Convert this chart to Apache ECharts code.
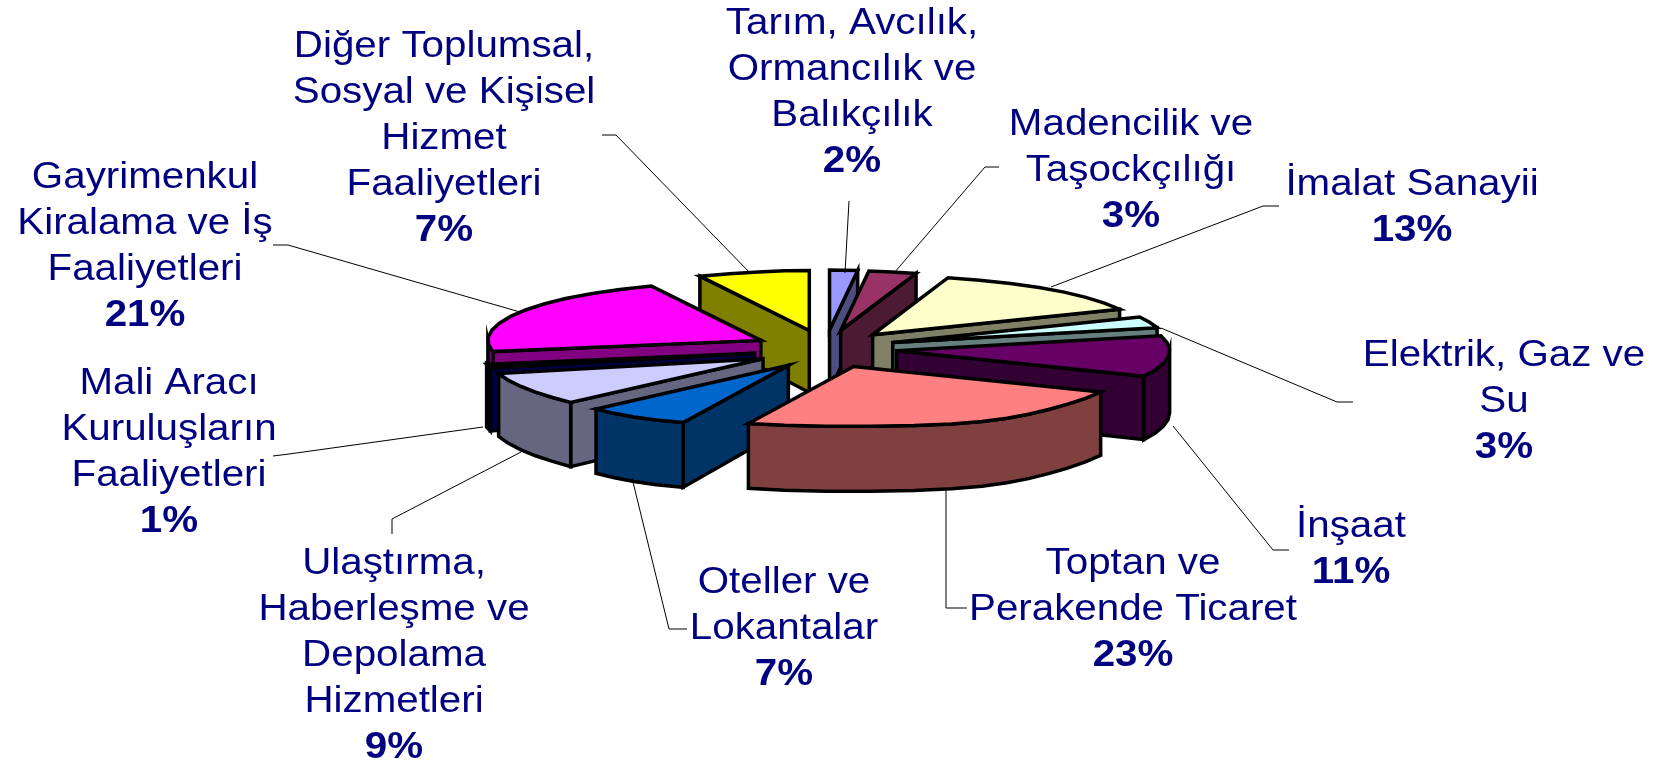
<!DOCTYPE html>
<html><head><meta charset="utf-8">
<style>html,body{margin:0;padding:0;background:#fff}#c{width:1657px;height:760px}</style>
<script src="https://cdn.jsdelivr.net/npm/echarts@6/dist/echarts.min.js"></script>
</head><body><div id="c"></div>
<script>
const categories = [
  "Tarım, Avcılık,\nOrmancılık ve\nBalıkçılık",
  "Madencilik ve\nTaşockçılığı",
  "İmalat Sanayii",
  "Elektrik, Gaz ve\nSu",
  "İnşaat",
  "Toptan ve\nPerakende Ticaret",
  "Oteller ve\nLokantalar",
  "Ulaştırma,\nHaberleşme ve\nDepolama\nHizmetleri",
  "Mali Aracı\nKuruluşların\nFaaliyetleri",
  "Gayrimenkul\nKiralama ve İş\nFaaliyetleri",
  "Diğer Toplumsal,\nSosyal ve Kişisel\nHizmet\nFaaliyetleri"
];
const shares = [2, 3, 13, 3, 11, 23, 7, 9, 1, 21, 7];
const topColors = ["#9999FF","#993366","#FFFFCC","#CCFFFF","#660066","#FF8080","#0066CC","#CCCCFF","#000080","#FF00FF","#FFFF00"];
const wallColors = ["#4D4D80","#4D1A33","#808066","#668080","#330033","#804040","#003366","#666680","#000040","#800080","#808000"];

/* paint order, back to front */
const paintOrder = [10, 9, 8, 7, 6, 0, 1, 2, 3, 4, 5];
/* label block centres and leader-line routes (page pixels) */
const labelCentres = [[852,93],[1131,171],[1412,208],[1504,402],[1351,550],[1133,610],[784,629],[394,656],[169,453],[145,247],[444,139]];
const leaderRoutes = [
  [[849,201],[845,273]],
  [[999,167],[985,167],[894,273]],
  [[1279,206],[1263,206],[1051,287]],
  [[1353,402],[1337,402],[1161,328]],
  [[1289,550],[1273,550],[1173,426]],
  [[967,608],[946,608],[946,489]],
  [[687,629],[669,629],[632,478]],
  [[392,534],[392,519],[521,452]],
  [[273,456],[289,454],[483,427]],
  [[273,245],[288,245],[520,312]],
  [[602,135],[616,135],[751,274]]
];
const pie = {cx:825, cy:349, rx:265, ry:60, ex:72, ey:19, depth:62, depthVar:3};
const total = shares.reduce((a,b)=>a+b,0);
const starts = []; shares.reduce((acc,v,i)=>{starts[i]=acc;return acc+v;},0);
const rad = d => d*Math.PI/180;

function widen(c){
  /* perspective: near rim spreads, far rim narrows */
  return c < 0 ? 1.03 + 0.38*Math.pow(-c,8) : 1.03 - 0.2*Math.pow(c,12);
}
function rimPoint(deg, ax, ay){
  const s=Math.sin(rad(deg)), c=Math.cos(rad(deg));
  return [ax + pie.rx*s*widen(c), ay - pie.ry*c];
}
function drop(p, deg){ return [p[0], p[1] + pie.depth - pie.depthVar*Math.cos(rad(deg))]; }
function rimRange(a,b,ax,ay){
  const pts=[]; const n=Math.max(1,Math.ceil((b-a)/7));
  for(let k=0;k<=n;k++){const d=a+(b-a)*k/n; pts.push({d,p:rimPoint(d,ax,ay)});}
  return pts;
}
function renderSlice(params, api){
  const i = api.value(1), v = api.value(0);
  const a = starts[i]/total*360, b = a + v/total*360, mid=(a+b)/2;
  const ax = pie.cx + pie.ex*Math.sin(rad(mid)), ay = pie.cy - pie.ey*Math.cos(rad(mid));
  const z = paintOrder.indexOf(i)*3;
  const stroke = {stroke:'#000', lineWidth:3.5, lineJoin:'miter'};
  const children = [];
  const poly = (points, fill, zz) => children.push({type:'polygon', z2:zz, shape:{points}, style:Object.assign({fill}, stroke)});
  const radial = deg => {
    const p = rimPoint(deg,ax,ay), apex=[ax,ay];
    poly([apex,p,drop(p,deg),[ax, ay+pie.depth]], wallColors[i], z);
  };
  if (Math.sin(rad(a)) < -1e-6) radial(a);
  if (Math.sin(rad(b)) > 1e-6) radial(b);
  const wa = Math.max(a,90), wb = Math.min(b,270);
  if (wb > wa) {
    const r = rimRange(wa,wb,ax,ay);
    poly(r.map(o=>o.p).concat(r.slice().reverse().map(o=>drop(o.p,o.d))), wallColors[i], z+1);
  }
  poly([[ax,ay]].concat(rimRange(a,b,ax,ay).map(o=>o.p)), topColors[i], z+2);
  return {type:'group', children};
}
function renderLabel(params, api){
  const i = api.value(0);
  const names = categories[i].split("\n").map(l=>"{n|"+l+"}").join("\n");
  const route = leaderRoutes[i];
  return {type:'group', children:[
    {type:'polyline', z2:100, shape:{points:route}, style:{fill:null, stroke:'#000', lineWidth:1}},
    {type:'text', z2:101, x:labelCentres[i][0], y:labelCentres[i][1], scaleX:1.12, style:{
      text: names+"\n{p|"+shares[i]+"%}", align:'center', verticalAlign:'middle',
      rich:{
        n:{font:'36px "Liberation Sans"', fill:'#000080', lineHeight:46, align:'center'},
        p:{font:'bold 36px "Liberation Sans"', fill:'#000080', lineHeight:46, align:'center'}
      }
    }}
  ]};
}
const chart = echarts.init(document.getElementById('c'), null, {renderer:'canvas'});
chart.setOption({
  animation:false,
  backgroundColor:'#fff',
  series:[
    {type:'custom', coordinateSystem:'none', renderItem:renderSlice, silent:true,
     data: shares.map((v,i)=>[v,i]), z:1},
    {type:'custom', coordinateSystem:'none', renderItem:renderLabel, silent:true,
     data: categories.map((c,i)=>[i]), z:2}
  ]
});
</script></body></html>
